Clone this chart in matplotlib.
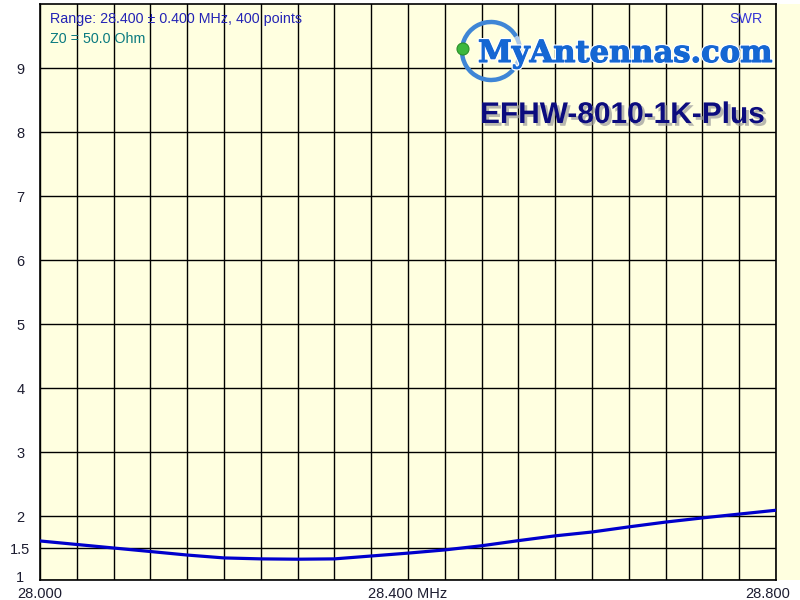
import numpy as np
import matplotlib.pyplot as plt
from matplotlib.patches import Rectangle, Arc, Circle
from matplotlib.transforms import ScaledTranslation
import matplotlib.patheffects as pe

plt.rcParams['font.family'] = ['Liberation Sans', 'DejaVu Sans']

# SWR readings, MHz
freq = [28.00, 28.04, 28.08, 28.12, 28.16, 28.20, 28.24, 28.28, 28.32, 28.36, 28.40,
        28.44, 28.48, 28.52, 28.56, 28.60, 28.64, 28.68, 28.72, 28.76, 28.80]
swr = [1.61, 1.555, 1.50, 1.445, 1.39, 1.345, 1.33, 1.325, 1.33, 1.375, 1.42,
       1.47, 1.535, 1.615, 1.69, 1.75, 1.83, 1.905, 1.97, 2.03, 2.09]

y_ticks = [1, 1.5, 2, 3, 4, 5, 6, 7, 8, 9]
y_labels = ['1', '1.5', '2', '3', '4', '5', '6', '7', '8', '9']
x_labeled = {28.0: '28.000', 28.4: '28.400 MHz', 28.8: '28.800'}

cream = '#FFFFE0'
label_col = '#1c1c30'

fig = plt.figure(figsize=(8, 6), dpi=100)
# cream strip continuing to the right of the plot
fig.patches.append(Rectangle((0.97, 1 - 580 / 600), 0.03, 576 / 600,
                             transform=fig.transFigure, facecolor=cream,
                             edgecolor='none', zorder=-5))

ax = fig.add_axes([40 / 800, 20 / 600, 736 / 800, 576 / 600])
ax.set_facecolor(cream)
ax.set_xlim(28.0, 28.8)
ax.set_ylim(1, 10)

xt = np.round(np.arange(28.0, 28.8001, 0.04), 2)
ax.set_xticks(xt)
ax.set_xticklabels([x_labeled.get(round(v, 2), '') for v in xt])
ax.set_yticks(y_ticks)
ax.set_yticklabels(y_labels)
ax.tick_params(length=0, labelsize=10.5, labelcolor=label_col)
ax.tick_params(axis='x', pad=5)
ax.tick_params(axis='y', pad=12)
for lab in ax.get_yticklabels():
    lab.set_horizontalalignment('center')
    lab.set_transform(lab.get_transform() + ScaledTranslation(-0.03, 0, fig.dpi_scale_trans))
ax.get_yticklabels()[0].set_transform(ax.get_yticklabels()[0].get_transform()
                                      + ScaledTranslation(0, 0.04, fig.dpi_scale_trans))
last = ax.get_xticklabels()[-1]
last.set_transform(last.get_transform() + ScaledTranslation(-0.08, 0, fig.dpi_scale_trans))

ax.grid(True, color='black', linewidth=1.0)
ax.set_axisbelow(True)
for s in ax.spines.values():
    s.set_color('black')
    s.set_linewidth(1.2)

ax.plot(freq, swr, color='#0000CC', linewidth=2.3, zorder=3)

ax.text(0.014, 0.974, 'Range: 28.400 \u00b1 0.400 MHz, 400 points', transform=ax.transAxes,
        fontsize=10.3, color='#2323B5', va='center', ha='left')
ax.text(0.014, 0.939, 'Z0 = 50.0 Ohm', transform=ax.transAxes,
        fontsize=10.3, color='#0A7A80', va='center', ha='left')
ax.text(0.982, 0.974, 'SWR', transform=ax.transAxes,
        fontsize=10.3, color='#3535D5', va='center', ha='right')

# logo overlay in pixel coordinates
ov = fig.add_axes([0, 0, 1, 1], facecolor='none')
ov.set_xlim(0, 800)
ov.set_ylim(600, 0)
ov.axis('off')
ov.add_patch(Arc((491, 51), 58, 58, theta1=40, theta2=330, color='#3F86D6', linewidth=3.2))
ov.add_patch(Arc((491, 51), 58, 58, theta1=-30, theta2=40, color='#A9C8EC', linewidth=3.2))
ov.add_patch(Circle((463, 49), 6, facecolor='#3DB83D', edgecolor='#2A8F2A', linewidth=0.8))
ov.text(478, 62, 'MyAntennas.com', fontsize=22, fontweight='bold', family='DejaVu Serif',
        color='#1567D3', ha='left', va='baseline',
        path_effects=[pe.Stroke(linewidth=2.5, foreground='white'),
                      pe.Stroke(linewidth=0.8, foreground='#1567D3'), pe.Normal()])
ov.text(480, 123, 'EFHW-8010-1K-Plus', fontsize=21.5, fontweight='bold',
        color='#0C0C7E', ha='left', va='baseline',
        path_effects=[pe.SimplePatchShadow(offset=(2, -2), shadow_rgbFace='#9a9a9a', alpha=0.7),
                      pe.Normal()])

fig.savefig('out.png', dpi=100)
